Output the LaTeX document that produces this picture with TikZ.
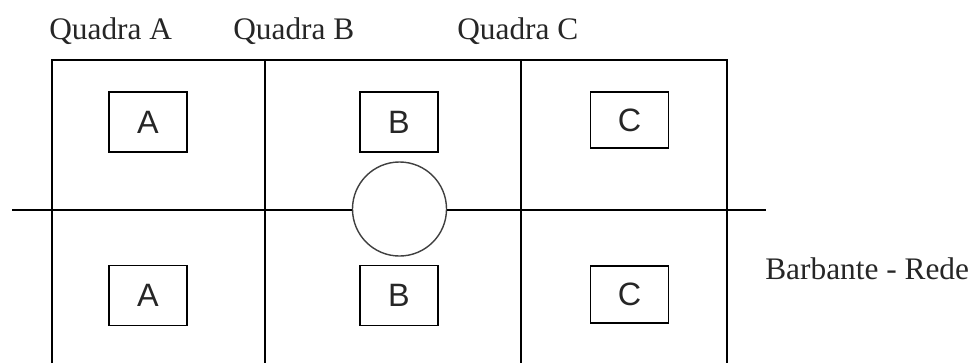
\documentclass[tikz,border=0pt]{standalone}
\usepackage{fontspec}
\setmainfont{Liberation Serif}
\newfontfamily\stallfont{Liberation Sans}
\usepackage{tikz}
\usetikzlibrary{positioning,shapes}

\tikzset{
  stall/.style={rectangle, draw=black, line width=1.3pt, fill=white, minimum width=1.95cm, minimum height=1.5cm, inner sep=0pt, text=black!85, font=\stallfont\fontsize{23}{26}\selectfont},
  label/.style={anchor=base west, inner sep=0pt, text=black!85, font=\fontsize{22.3}{26}\selectfont},
  wall/.style={line width=1.3pt, black}
}

\begin{document}
\begin{tikzpicture}[x=0.025cm, y=-0.025cm]
    \useasboundingbox (0,0) rectangle (977,363);

    % titulos das quadras
    \node[label] (qa) at (49,39) {Quadra A};
    \node[label] (qb) at (233,39) {Quadra B};
    \node[label] (qc) at (457,39) {Quadra C};

    % quadras
    \draw[wall] (52,363) -- (52,60) -- (727,60) -- (727,363);
    \draw[wall] (265,60) -- (265,363);
    \draw[wall] (521,60) -- (521,363);

    % barbante com a bola
    \coordinate (rl) at (12,210);
    \coordinate (rr) at (766,210);
    \node[circle, draw=black!75, line width=1pt, minimum size=2.35cm, inner sep=0pt] (bola) at (399.5,209) {};
    \draw[wall] (rl) -- (bola.west |- rl);
    \draw[wall] (bola.east |- rr) -- (rr);
    \node[label] (rede) at (765,279) {Barbante - Rede};

    % jogadores
    \node[stall] (a1) at (148,122) {A};
    \node[stall] (a2) at (148,295.5) {A};
    \node[stall] (b1) at (399,122) {B};
    \node[stall] (b2) at (399,295.5) {B};
    \node[stall, minimum height=1.42cm] (c1) at (629.5,120) {C};
    \node[stall, minimum height=1.42cm] (c2) at (629.5,294.5) {C};
  \end{tikzpicture}
\end{document}
